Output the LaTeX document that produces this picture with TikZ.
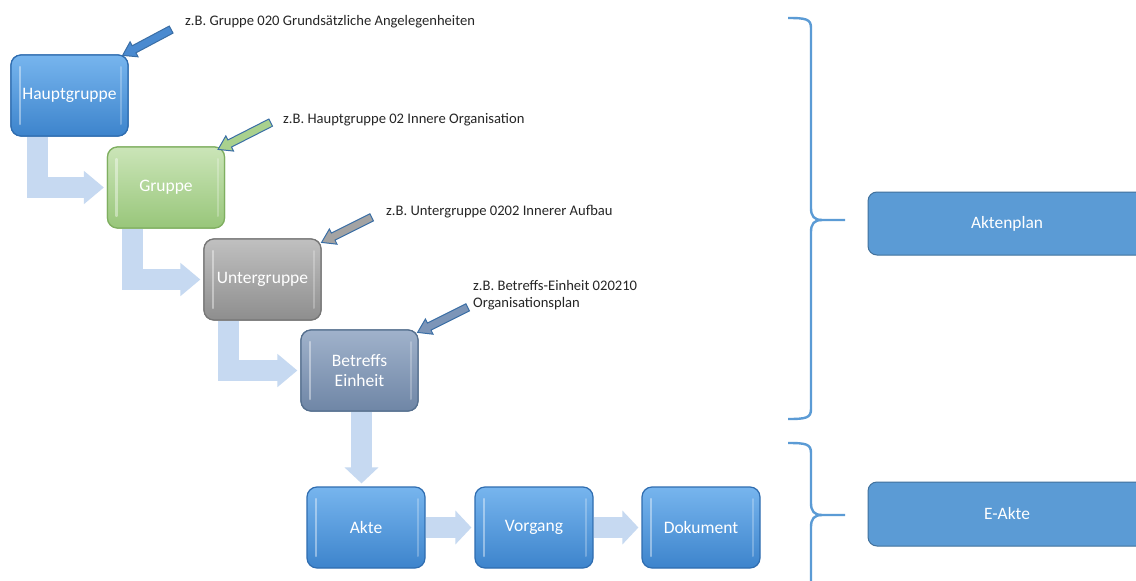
\documentclass[tikz,border=0pt]{standalone}
\usepackage{fontspec}
\setmainfont{Carlito}
\usetikzlibrary{arrows.meta,calc}
\definecolor{bluetop}{HTML}{77B5EE}
\definecolor{bluebot}{HTML}{3D84CC}
\definecolor{blueedge}{HTML}{2F6DB0}
\definecolor{greentop}{HTML}{CBE5B8}
\definecolor{greenbot}{HTML}{98C67A}
\definecolor{greenedge}{HTML}{7FAF60}
\definecolor{graytop}{HTML}{C0C0C0}
\definecolor{graybot}{HTML}{8E8E8E}
\definecolor{grayedge}{HTML}{767676}
\definecolor{slatetop}{HTML}{A0B2CB}
\definecolor{slatebot}{HTML}{6F86A6}
\definecolor{slateedge}{HTML}{56708F}
\definecolor{flowc}{HTML}{C6D9F1}
\definecolor{bracec}{HTML}{5B9BD5}
\definecolor{panelfill}{HTML}{5B9BD5}
\definecolor{paneledge}{HTML}{41719C}
\definecolor{calloutedge}{HTML}{3A6EA5}
\definecolor{callblue}{HTML}{4A8AD0}
\definecolor{callgreen}{HTML}{A9D18E}
\definecolor{callgray}{HTML}{A3A3A3}
\definecolor{callslate}{HTML}{7C95B8}
\definecolor{txt}{HTML}{262626}
\newcommand\calloutarrow[4]{%
  \begin{scope}[shift={(#1)}, rotate=#2]
    \filldraw[draw=calloutedge, fill=#3, line width=1pt, line join=miter]
      (0,0) -- (-13,8.5) -- (-13,4) -- (-#4,4) -- (-#4,-4) -- (-13,-4) -- (-13,-8.5) -- cycle;
  \end{scope}}
\begin{document}
\begin{tikzpicture}[x=1pt,y=-1pt,
  box/.style={draw, line width=1.2pt, rounded corners=10pt, minimum width=117pt, minimum height=81pt,
    text=white, font=\fontsize{17.5}{20}\selectfont, align=center,
    path picture={
      \draw[white, opacity=0.4, line width=2.2pt, line cap=round]
        ($(path picture bounding box.north west)+(9,12)$) -- ($(path picture bounding box.south west)+(9,-12)$);
      \draw[white, opacity=0.25, line width=2pt, line cap=round]
        ($(path picture bounding box.north east)+(-7,12)$) -- ($(path picture bounding box.south east)+(-7,-12)$);}},
  bluebox/.style={box, draw=blueedge, top color=bluetop, bottom color=bluebot},
  greenbox/.style={box, draw=greenedge, top color=greentop, bottom color=greenbot},
  graybox/.style={box, draw=grayedge, top color=graytop, bottom color=graybot},
  slatebox/.style={box, draw=slateedge, top color=slatetop, bottom color=slatebot},
  panel/.style={draw=paneledge, fill=panelfill, line width=1pt, rounded corners=9pt, minimum width=278pt,
    text=white, font=\fontsize{17.4}{19}\selectfont},
  flow/.style={draw=flowc, line width=21pt, -{Triangle[length=20pt,width=32pt]}, shorten >=3pt},
  flowsmall/.style={draw=flowc, line width=21pt, -{Triangle[length=16pt,width=33pt]}, shorten >=3pt},
  note/.style={anchor=west, text=txt, font=\fontsize{14.6}{17.5}\selectfont, align=left, inner sep=0pt},
  brace/.style={draw=bracec, line width=2.4pt}
]
\useasboundingbox (0,0) rectangle (1136,581);
\clip (0,0) rectangle (1136,581);
\fill[white] (0,0) rectangle (1136,581);

% main boxes (named)
\node[bluebox]  (hg) at (69.5,95.5)  {Hauptgruppe};
\node[greenbox] (gr) at (166,187.5)  {Gruppe};
\node[graybox]  (ug) at (262.5,279.5) {Untergruppe};
\node[slatebox] (be) at (359.5,370.5) {Betreffs\\Einheit};
\node[bluebox, minimum width=118pt] (ak) at (366,527.5) {Akte};
\node[bluebox, minimum width=118pt] (vo) at (534,527.5) {Vorgang};
\node[bluebox, minimum width=118pt] (dk) at (701,527.5) {Dokument};

% flow arrows
\draw[flow] ($(hg.south west)+(27.5,0)$) |- (gr.west);
\draw[flow] ($(gr.south west)+(25.5,0)$) |- (ug.west);
\draw[flow] ($(ug.south west)+(25,0)$) |- (be.west);
\coordinate (d1) at ($(be.south)+(2,0)$);
\draw[flowsmall] (d1) -- (d1 |- ak.north);
\draw[flowsmall] (ak.east) -- (vo.west);
\draw[flowsmall] (vo.east) -- (dk.west);

% redraw boxes over arrow ends
\node[bluebox]  at (hg) {Hauptgruppe};
\node[greenbox] at (gr) {Gruppe};
\node[graybox]  at (ug) {Untergruppe};
\node[slatebox] at (be) {Betreffs\\Einheit};

% notes
\node[note] (n1) at (185,22)  {z.B. Gruppe 020 Grundsätzliche Angelegenheiten};
\node[note] (n2) at (283,120) {z.B. Hauptgruppe 02 Innere Organisation};
\node[note] (n3) at (386,212) {z.B. Untergruppe 0202 Innerer Aufbau};
\node[note] (n4) at (473,295) {z.B. Betreffs-Einheit 020210\\Organisationsplan};

% callout arrows
\coordinate (t1) at ($(hg.north east)+(-6,1)$);
\coordinate (t2) at ($(gr.north east)+(-7,3)$);
\coordinate (t3) at ($(ug.north east)+(0,4)$);
\coordinate (t4) at ($(be.north east)+(-1,3)$);
\calloutarrow{t1}{208}{callblue}{55}
\calloutarrow{t2}{207}{callgreen}{59}
\calloutarrow{t3}{206.6}{callgray}{56}
\calloutarrow{t4}{206.6}{callslate}{56}

% braces
\draw[brace] (788,18) .. controls (806,18) and (811,19) .. (811,28) -- (811,208)
  .. controls (811,216) and (814,220) .. (822,220) -- (845,220);
\draw[brace] (822,220) .. controls (814,220) and (811,224) .. (811,232) -- (811,409)
  .. controls (811,418) and (806,419) .. (788,419);
\draw[brace] (788,443) .. controls (806,443) and (811,444) .. (811,453) -- (811,503)
  .. controls (811,511) and (814,515) .. (822,515) -- (845,515);
\draw[brace] (822,515) .. controls (814,515) and (811,519) .. (811,527) -- (811,600);

% panels
\node[panel, minimum height=63pt] (ap) at (1007,223.5) {Aktenplan};
\node[panel, minimum height=64pt] (ea) at (1007,514) {E-Akte};
\end{tikzpicture}
\end{document}
